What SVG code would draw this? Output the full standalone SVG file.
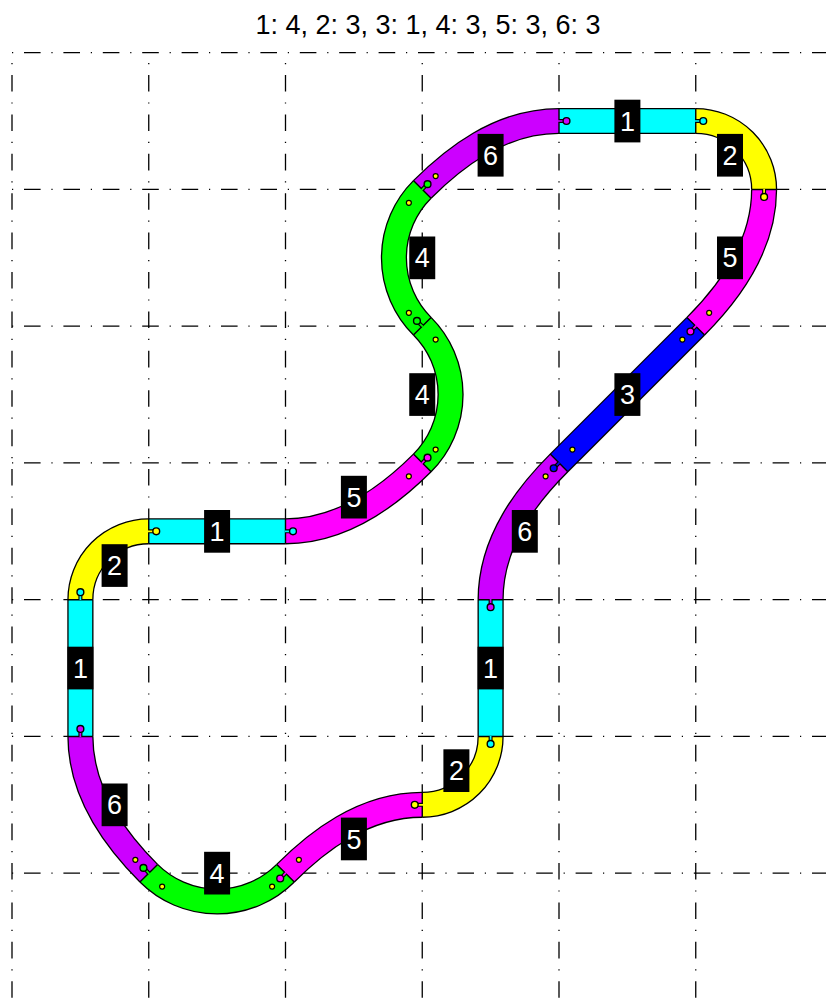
<svg xmlns="http://www.w3.org/2000/svg" width="826" height="1008" viewBox="0 0 826 1008">
<style>
text{font-family:"Liberation Sans",Arial,sans-serif;font-size:27px;text-anchor:middle}
.t{fill:#fff}
.g{stroke:#000;stroke-width:1.3;fill:none;stroke-dasharray:1.2 10.8 16.6 10.8}
.o{fill:none;stroke:#000;stroke-width:26.2}
.f{fill:none;stroke-width:23.6}
.l{fill:#000}
.j{stroke:#000;stroke-width:1.4;fill:none}
.c1{stroke:#0ff}.c2{stroke:#ff0}.c3{stroke:#00f}.c4{stroke:#0f0}.c5{stroke:#f0f}.c6{stroke:#c0f}
.s{fill:none;stroke-width:1.7}
.sb{fill:none;stroke:#000;stroke-width:4}
.k{stroke:#000;stroke-width:1.4}
.k1{fill:#0ff}.k2{fill:#ff0}.k3{fill:#00f}.k4{fill:#0f0}.k5{fill:#f0f}.k6{fill:#c0f}
.d{fill:#ff0;stroke:#000;stroke-width:1.2}
</style>
<rect width="826" height="1008" fill="#fff"/>
<text x="428" y="34">1: 4, 2: 3, 3: 1, 4: 3, 5: 3, 6: 3</text>
<g id="grid">
<path class="g" d="M12 52.7H826M12 189.45H826M12 326.2H826M12 462.95H826M12 599.7H826M12 736.45H826M12 873.2H826"/>
<path class="g" d="M12 63V1008M148.75 63V1008M285.5 63V1008M422.25 63V1008M559 63V1008M695.75 63V1008"/>
</g>
<g id="seg-a"><path class="o" d="M559 121H695.75"/><path class="f c1" d="M559 121H695.75"/><rect class="l" x="614.4" y="99.7" width="26" height="42.7"/><text class="t" x="627.4" y="130.6">1</text></g>
<g id="seg-b"><path class="o" d="M695.75 121A68.375 68.375 0 0 1 764.1 189.45"/><path class="f c2" d="M695.75 121A68.375 68.375 0 0 1 764.1 189.45"/><rect class="l" x="717" y="133.9" width="26" height="42.7"/><text class="t" x="730" y="164.8">2</text></g>
<g id="seg-c"><path class="o" d="M764.1 189.45C764.1 249.45 725.75 296.2 695.75 326.2"/><path class="f c5" d="M764.1 189.45C764.1 249.45 725.75 296.2 695.75 326.2"/><rect class="l" x="717" y="236.5" width="26" height="42.7"/><text class="t" x="730" y="267.4">5</text></g>
<g id="seg-d"><path class="o" d="M695.75 326.2L559 462.95"/><path class="f c3" d="M695.75 326.2L559 462.95"/><rect class="l" x="614.4" y="373.2" width="26" height="42.7"/><text class="t" x="627.4" y="404.2">3</text></g>
<g id="seg-e"><path class="o" d="M559 462.95C529 492.95 490.6 539.7 490.6 599.7"/><path class="f c6" d="M559 462.95C529 492.95 490.6 539.7 490.6 599.7"/><rect class="l" x="511.8" y="510" width="26" height="42.7"/><text class="t" x="524.8" y="540.9">6</text></g>
<g id="seg-f"><path class="o" d="M490.6 599.7V736.45"/><path class="f c1" d="M490.6 599.7V736.45"/><rect class="l" x="477.6" y="646.7" width="26" height="42.7"/><text class="t" x="490.6" y="677.7">1</text></g>
<g id="seg-g"><path class="o" d="M490.6 736.45A68.375 68.375 0 0 1 422.25 804.8"/><path class="f c2" d="M490.6 736.45A68.375 68.375 0 0 1 422.25 804.8"/><rect class="l" x="443.4" y="749.3" width="26" height="42.7"/><text class="t" x="456.4" y="780.2">2</text></g>
<g id="seg-h"><path class="o" d="M422.25 804.8C362.25 804.8 315.5 843.2 285.5 873.2"/><path class="f c5" d="M422.25 804.8C362.25 804.8 315.5 843.2 285.5 873.2"/><rect class="l" x="340.9" y="817.6" width="26" height="42.7"/><text class="t" x="353.9" y="848.6">5</text></g>
<g id="seg-i"><path class="o" d="M285.5 873.2A96.7 96.7 0 0 1 148.75 873.2"/><path class="f c4" d="M285.5 873.2A96.7 96.7 0 0 1 148.75 873.2"/><rect class="l" x="204.1" y="851.8" width="26" height="42.7"/><text class="t" x="217.1" y="882.8">4</text></g>
<g id="seg-j"><path class="o" d="M148.75 873.2C118.75 843.2 80.4 796.45 80.4 736.45"/><path class="f c6" d="M148.75 873.2C118.75 843.2 80.4 796.45 80.4 736.45"/><rect class="l" x="101.6" y="783.5" width="26" height="42.7"/><text class="t" x="114.6" y="814.4">6</text></g>
<g id="seg-k"><path class="o" d="M80.4 736.45V599.7"/><path class="f c1" d="M80.4 736.45V599.7"/><rect class="l" x="67.4" y="646.7" width="26" height="42.7"/><text class="t" x="80.4" y="677.7">1</text></g>
<g id="seg-l"><path class="o" d="M80.4 599.7A68.375 68.375 0 0 1 148.75 531.3"/><path class="f c2" d="M80.4 599.7A68.375 68.375 0 0 1 148.75 531.3"/><rect class="l" x="101.6" y="544.2" width="26" height="42.7"/><text class="t" x="114.6" y="575.1">2</text></g>
<g id="seg-m"><path class="o" d="M148.75 531.3H285.5"/><path class="f c1" d="M148.75 531.3H285.5"/><rect class="l" x="204.1" y="510" width="26" height="42.7"/><text class="t" x="217.1" y="540.9">1</text></g>
<g id="seg-n"><path class="o" d="M285.5 531.3C345.5 531.3 392.25 492.95 422.25 462.95"/><path class="f c5" d="M285.5 531.3C345.5 531.3 392.25 492.95 422.25 462.95"/><rect class="l" x="340.9" y="475.8" width="26" height="42.7"/><text class="t" x="353.9" y="506.7">5</text></g>
<g id="seg-o"><path class="o" d="M422.25 462.95A96.7 96.7 0 0 0 422.25 326.2"/><path class="f c4" d="M422.25 462.95A96.7 96.7 0 0 0 422.25 326.2"/><rect class="l" x="409.25" y="373.2" width="26" height="42.7"/><text class="t" x="422.25" y="404.2">4</text></g>
<g id="seg-p"><path class="o" d="M422.25 326.2A96.7 96.7 0 0 1 422.25 189.45"/><path class="f c4" d="M422.25 326.2A96.7 96.7 0 0 1 422.25 189.45"/><rect class="l" x="409.25" y="236.5" width="26" height="42.7"/><text class="t" x="422.25" y="267.4">4</text></g>
<g id="seg-q"><path class="o" d="M422.25 189.45C452.25 159.45 499 121 559 121"/><path class="f c6" d="M422.25 189.45C452.25 159.45 499 121 559 121"/><rect class="l" x="477.6" y="133.9" width="26" height="42.7"/><text class="t" x="490.6" y="164.8">6</text></g>
<g id="connectors">
<path class="j" d="M559 108.5V133.5M695.75 108.5V133.5M751.6 189.45H776.6M686.9 317.4L704.6 335M550.2 454.1L567.8 471.8M478.1 599.7H503.1M478.1 736.45H503.1M422.25 792.3V817.3M276.7 864.4L294.3 882M157.6 864.4L139.9 882M67.9 736.45H92.9M67.9 599.7H92.9M148.75 518.8V543.8M285.5 518.8V543.8M413.4 454.1L431.1 471.8M413.4 335L431.1 317.4M413.4 180.6L431.1 198.3"/>
<g id="knobs">
<path class="sb" d="M559 121H564M695.75 121H701M764.1 189.45V195M695.75 326.2L692 330M559 462.95L555 467M490.6 599.7V605M490.6 736.45V742M422.25 804.8H417M285.5 873.2L282 877M148.75 873.2L145 869M80.4 736.45V731M80.4 599.7V594M148.75 531.3H154M285.5 531.3H291M422.25 462.95L426 459M422.25 326.2L418.5 322.5M422.25 189.45L426 185.7"/>
<path class="s c6" d="M558 121H564M490.6 599V605M80.4 737V731"/>
<path class="s c1" d="M695 121H701M490.6 736V742M80.4 600V594M285 531.3H291"/>
<path class="s c2" d="M764.1 189V195M423 804.8H417M148 531.3H154"/>
<path class="s c5" d="M696.3 325.7L692 330M286 872.7L282 877M421.7 463.5L426 459"/>
<path class="s c3" d="M559.5 462.5L555 467"/>
<path class="s c4" d="M149.3 873.7L145 869M422.8 326.7L418.5 322.5M421.7 190L426 185.7"/>
<circle class="k k6" cx="566.5" cy="121" r="3.4"/>
<circle class="k k1" cx="703.25" cy="121" r="3.4"/>
<circle class="k k2" cx="764.1" cy="196.95" r="3.4"/>
<circle class="k k5" cx="690.45" cy="331.5" r="3.4"/>
<circle class="k k3" cx="553.7" cy="468.25" r="3.4"/>
<circle class="k k6" cx="490.6" cy="607.2" r="3.4"/>
<circle class="k k1" cx="490.6" cy="743.95" r="3.4"/>
<circle class="k k2" cx="414.75" cy="804.8" r="3.4"/>
<circle class="k k5" cx="280.2" cy="878.5" r="3.4"/>
<circle class="k k4" cx="143.45" cy="867.9" r="3.4"/>
<circle class="k k6" cx="80.4" cy="728.95" r="3.4"/>
<circle class="k k1" cx="80.4" cy="592.2" r="3.4"/>
<circle class="k k2" cx="156.25" cy="531.3" r="3.4"/>
<circle class="k k1" cx="293" cy="531.3" r="3.4"/>
<circle class="k k5" cx="427.55" cy="457.65" r="3.4"/>
<circle class="k k4" cx="416.95" cy="320.9" r="3.4"/>
<circle class="k k4" cx="427.55" cy="184.15" r="3.4"/>
</g>
<g id="dots">
<circle class="d" cx="709.15" cy="312.8" r="2.5"/><circle class="d" cx="682.35" cy="339.6" r="2.5"/>
<circle class="d" cx="572.4" cy="449.55" r="2.5"/><circle class="d" cx="545.6" cy="476.35" r="2.5"/>
<circle class="d" cx="298.9" cy="859.8" r="2.5"/><circle class="d" cx="272.1" cy="886.6" r="2.5"/>
<circle class="d" cx="135.35" cy="859.8" r="2.5"/><circle class="d" cx="162.15" cy="886.6" r="2.5"/>
<circle class="d" cx="435.65" cy="449.55" r="2.5"/><circle class="d" cx="408.85" cy="476.35" r="2.5"/>
<circle class="d" cx="408.85" cy="312.8" r="2.5"/><circle class="d" cx="435.65" cy="339.6" r="2.5"/>
<circle class="d" cx="435.65" cy="176.05" r="2.5"/><circle class="d" cx="408.85" cy="202.85" r="2.5"/>
</g>
</g>
</svg>
